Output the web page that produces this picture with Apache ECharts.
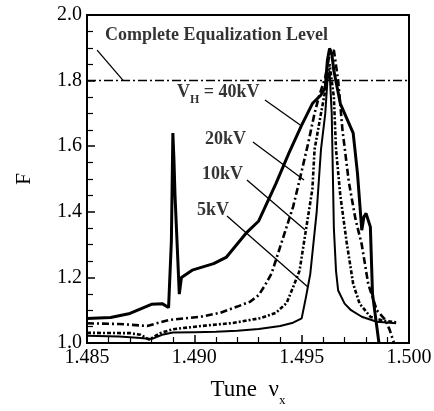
<!DOCTYPE html>
<html><head><meta charset="utf-8">
<script src="https://cdn.jsdelivr.net/npm/echarts@6/dist/echarts.min.js"></script>
<style>html,body{margin:0;padding:0;background:#fff}#c{width:434px;height:411px}</style>
</head><body><div id="c"></div>
<script>
// Data: [tune, F]
var v40 = [[1.4850,1.075],[1.4861,1.078],[1.4870,1.09],[1.4880,1.118],[1.4885,1.12],[1.4888,1.108],[1.48893,1.31],[1.4890,1.64],[1.48905,1.56],[1.4891,1.45],[1.4893,1.149],[1.4894,1.20],[1.4899,1.222],[1.4909,1.242],[1.4915,1.262],[1.4924,1.334],[1.4930,1.372],[1.4938,1.486],[1.4944,1.578],[1.4950,1.664],[1.4955,1.73],[1.4959,1.756],[1.4961,1.78],[1.4962,1.863],[1.4963,1.898],[1.4964,1.883],[1.4965,1.83],[1.4968,1.73],[1.4974,1.64],[1.4976,1.517],[1.4978,1.344],[1.4979,1.385],[1.4980,1.395],[1.4982,1.354],[1.4983,1.15],[1.4985,1.05],[1.4986,1.0]];
var v20 = [[1.4850,1.060],[1.4865,1.058],[1.4878,1.052],[1.4888,1.070],[1.4903,1.080],[1.4912,1.092],[1.4920,1.111],[1.4926,1.126],[1.4930,1.146],[1.4933,1.177],[1.4936,1.212],[1.4942,1.334],[1.4946,1.415],[1.4949,1.496],[1.4953,1.608],[1.4956,1.70],[1.4958,1.75],[1.4961,1.81],[1.4963,1.88],[1.4965,1.893],[1.4967,1.80],[1.4969,1.65],[1.4972,1.49],[1.4975,1.38],[1.4978,1.30],[1.4981,1.18],[1.4985,1.10],[1.4989,1.07],[1.4991,1.04],[1.4993,1.0]];
var v10 = [[1.4850,1.031],[1.4870,1.030],[1.4875,1.025],[1.4879,1.010],[1.4884,1.030],[1.4890,1.042],[1.4905,1.053],[1.4918,1.061],[1.4931,1.076],[1.4938,1.092],[1.4943,1.122],[1.4946,1.17],[1.4949,1.22],[1.4952,1.345],[1.4955,1.47],[1.4956,1.59],[1.4959,1.70],[1.4961,1.77],[1.4963,1.85],[1.4965,1.75],[1.4966,1.59],[1.4968,1.45],[1.4971,1.305],[1.4974,1.18],[1.4977,1.12],[1.4982,1.08],[1.4988,1.068],[1.4994,1.063]];
var v5 = [[1.4850,1.022],[1.4865,1.020],[1.4875,1.015],[1.4880,1.012],[1.4885,1.025],[1.4890,1.032],[1.4900,1.033],[1.4910,1.034],[1.4920,1.037],[1.4930,1.043],[1.4940,1.052],[1.4946,1.062],[1.4950,1.075],[1.4952,1.14],[1.4954,1.21],[1.4957,1.40],[1.4959,1.59],[1.4961,1.70],[1.4962,1.80],[1.4963,1.83],[1.4964,1.70],[1.4965,1.35],[1.4966,1.22],[1.4967,1.16],[1.4970,1.12],[1.4973,1.10],[1.4978,1.08],[1.4985,1.065],[1.4994,1.060]];
var equalLevel = 1.8;
var xTicks = ['1.485','1.490','1.495','1.500'];
var yTicks = ['1.0','1.2','1.4','1.6','1.8','2.0'];
// annotation texts, their left/baseline anchors and leader lines (data coords)
var labelTexts = ['Complete Equalization Level','{v|V}{s|H}{v| = 40kV}','20kV','10kV','5kV'];
var labelPos = [[1.48584,1.912],[1.48919,1.722],[1.49050,1.592],[1.49036,1.487],[1.49012,1.377]];
var leaders = [
  [[1.48547,1.893],[1.48669,1.8]],
  [[1.49329,1.741],[1.49495,1.664]],
  [[1.49273,1.613],[1.49511,1.497]],
  [[1.49245,1.497],[1.49515,1.345]],
  [[1.49152,1.387],[1.49529,1.171]]
];

var serif = 'Liberation Serif, Times New Roman, serif';
var chart = echarts.init(document.getElementById('c'));
function lineSeries(name, data, width, type) {
  return {name:name, type:'line', data:data, symbol:'none', smooth:false, clip:true,
    lineStyle:{color:'#000', width:width, type:type}, z:3};
}
chart.setOption({
  animation:false,
  backgroundColor:'#fff',
  grid:{left:87, right:25, top:15, bottom:68, show:true, borderColor:'#000', borderWidth:2,
    containLabel:false, outerBoundsMode:'none'},
  xAxis:{type:'value', min:1.485, max:1.5, interval:0.005,
    axisLine:{show:false}, splitLine:{show:false},
    axisTick:{show:true, inside:true, length:8, lineStyle:{color:'#000', width:1.5}},
    minorTick:{show:true, splitNumber:5, length:6, lineStyle:{color:'#000', width:1.2}},
    axisLabel:{color:'#000', fontFamily:serif, fontSize:20, margin:5,
      formatter:function(v){var i=Math.round((v-1.485)/0.005);return xTicks[i]||'';}},
    name:'{t|Tune  ν}{s|x}', nameLocation:'middle', nameGap:29,
    nameTextStyle:{rich:{t:{fontFamily:serif,fontSize:23,color:'#000'},s:{fontFamily:serif,fontSize:13,color:'#000',padding:[22,0,0,0]}}}
  },
  yAxis:{type:'value', min:1.0, max:2.0, interval:0.2,
    axisLine:{show:false}, splitLine:{show:false},
    axisTick:{show:true, inside:true, length:8, lineStyle:{color:'#000', width:1.5}},
    minorTick:{show:true, splitNumber:4, length:6, lineStyle:{color:'#000', width:1.2}},
    axisLabel:{color:'#000', fontFamily:serif, fontSize:20, margin:5,
      formatter:function(v){var i=Math.round((v-1.0)/0.2);return yTicks[i]||'';}},
    name:'F', nameLocation:'middle', nameGap:52, nameRotate:90,
    nameTextStyle:{fontFamily:serif, fontSize:21, color:'#000'}
  },
  series:[
    lineSeries('40kV', v40, 3, 'solid'),
    lineSeries('20kV', v20, 2.6, [7,3,2,3]),
    lineSeries('10kV', v10, 2.6, [4,2,2,2]),
    lineSeries('5kV', v5, 2, 'solid'),
    {type:'line', data:[], symbol:'none',
      markLine:{silent:true, symbol:'none', label:{show:false},
        data:[[{coord:[1.485,equalLevel], lineStyle:{type:[9,3,2,3], width:1.3, color:'#000'}},{coord:[1.5,equalLevel]}]].concat(
          leaders.map(function(l){return [{coord:l[0]},{coord:l[1]}];})),
        lineStyle:{color:'#000', width:1.3, type:'solid'}}},
    {type:'scatter', symbolSize:0, z:5,
      data:labelPos.map(function(p,i){return {value:p, label:{show:true, formatter:labelTexts[i]}};}),
      label:{position:[0,0], align:'left', verticalAlign:'bottom', color:'#000', fontFamily:serif, fontSize:18, fontWeight:'bold',
        rich:{v:{fontFamily:serif,fontSize:18,fontWeight:'bold',color:'#000'},s:{fontFamily:serif,fontSize:12,fontWeight:'bold',color:'#000',padding:[16,0,0,0]}}}}
  ]
});
</script></body></html>
